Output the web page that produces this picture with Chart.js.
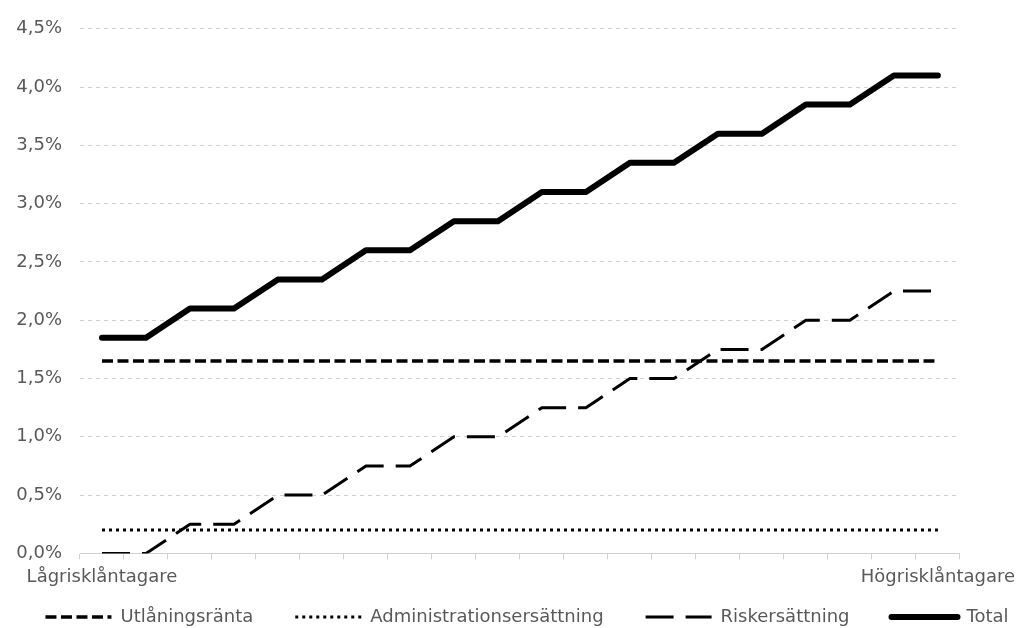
<!doctype html>
<html>

<head>
	<title>Räntekomponenter</title>
	<script src="https://cdn.jsdelivr.net/npm/chart.js@4"></script>
	<style>
		html, body { margin: 0; padding: 0; background: #fff; }
		#holder { width: 1022px; height: 628px; }
	</style>
</head>

<body>
	<div id="holder">
		<canvas id="chart-area"></canvas>
	</div>
	<script>
		// 20 borrower classes, only the two ends are labelled
		var categories = ['Lågrisklåntagare', '', '', '', '', '', '', '', '', '', '', '', '', '', '', '', '', '', '', 'Högrisklåntagare'];

		var utlaningsranta = [1.65, 1.65, 1.65, 1.65, 1.65, 1.65, 1.65, 1.65, 1.65, 1.65, 1.65, 1.65, 1.65, 1.65, 1.65, 1.65, 1.65, 1.65, 1.65, 1.65];
		var administration = [0.2, 0.2, 0.2, 0.2, 0.2, 0.2, 0.2, 0.2, 0.2, 0.2, 0.2, 0.2, 0.2, 0.2, 0.2, 0.2, 0.2, 0.2, 0.2, 0.2];
		var riskersattning = [0, 0, 0.25, 0.25, 0.5, 0.5, 0.75, 0.75, 1.0, 1.0, 1.25, 1.25, 1.5, 1.5, 1.75, 1.75, 2.0, 2.0, 2.25, 2.25];
		var total = [1.85, 1.85, 2.1, 2.1, 2.35, 2.35, 2.6, 2.6, 2.85, 2.85, 3.1, 3.1, 3.35, 3.35, 3.6, 3.6, 3.85, 3.85, 4.1, 4.1];

		var textColor = '#595959';
		var gridColor = '#d0d0d0';
		var font = { family: 'DejaVu Sans', size: 18 };
		var legendGap = 42;

		// the legend needs wide gaps between items but little height:
		// give the layout a short box, then draw it from a taller one.
		// the extra width stops chart.js from wrapping the last item
		var legendFix = {
			id: 'legendFix',
			beforeInit: function(chart) {
				var legend = chart.legend;
				var fit = legend.fit;
				legend.fit = function() {
					var mw = this.maxWidth;
					this.maxWidth = mw + 400;
					fit.call(this);
					this.maxWidth = mw;
					this.width = mw;
					this.height = 33;
				};
				var draw = legend.draw;
				legend.draw = function() {
					var box = { top: this.top, bottom: this.bottom, left: this.left, right: this.right };
					this.top = chart.height - 20 - legendGap;
					this.bottom = chart.height;
					this.left = -184;
					this.right = chart.width + 216;
					draw.call(this);
					this.top = box.top;
					this.bottom = box.bottom;
					this.left = box.left;
					this.right = box.right;
				};
			}
		};

		var config = {
			type: 'line',
			data: {
				labels: categories,
				datasets: [{
					label: 'Utlåningsränta',
					data: utlaningsranta,
					borderColor: '#000',
					borderWidth: 3.5,
					borderDash: [11, 4.5]
				}, {
					label: 'Administrationsersättning',
					data: administration,
					borderColor: '#000',
					borderWidth: 3,
					borderDash: [3, 4]
				}, {
					label: 'Riskersättning',
					data: riskersattning,
					borderColor: '#000',
					borderWidth: 3,
					borderDash: [28, 12]
				}, {
					label: 'Total',
					data: total,
					borderColor: '#000',
					borderWidth: 6,
					borderCapStyle: 'round',
					borderJoinStyle: 'round'
				}]
			},
			options: {
				responsive: true,
				maintainAspectRatio: false,
				animation: false,
				layout: {
					padding: { top: 22, left: 0, right: 0, bottom: 0 }
				},
				elements: {
					point: { radius: 0 },
					line: { tension: 0 }
				},
				scales: {
					x: {
						offset: true,
						grid: {
							offset: true,
							drawOnChartArea: false,
							drawTicks: true,
							tickLength: 6,
							color: gridColor
						},
						border: { display: true, color: gridColor },
						ticks: {
							autoSkip: false,
							maxRotation: 0,
							padding: 7,
							color: textColor,
							font: font
						}
					},
					y: {
						min: 0,
						max: 4.5,
						grid: {
							color: gridColor,
							drawTicks: false
						},
						border: { display: false, dash: [4, 4] },
						ticks: {
							stepSize: 0.5,
							padding: 18,
							color: textColor,
							font: font,
							callback: function(value) {
								return value.toFixed(1).replace('.', ',') + '%';
							}
						},
						afterFit: function(scale) {
							scale.width = 80;
						}
					}
				},
				plugins: {
					legend: {
						position: 'bottom',
						labels: {
							usePointStyle: true,
							pointStyle: 'line',
							pointStyleWidth: 66,
							padding: legendGap,
							color: textColor,
							font: font,
							generateLabels: function(chart) {
								var items = Chart.defaults.plugins.legend.labels.generateLabels(chart);
								items.forEach(function(item) {
									var ds = chart.data.datasets[item.datasetIndex];
									item.lineDash = ds.borderDash || [];
									item.lineWidth = ds.borderWidth;
									item.lineCap = ds.borderCapStyle || 'butt';
								});
								return items;
							}
						}
					},
					tooltip: { enabled: false }
				}
			},
			plugins: [legendFix]
		};

		window.onload = function() {
			var ctx = document.getElementById('chart-area').getContext('2d');
			window.myLine = new Chart(ctx, config);
		};
	</script>
</body>

</html>
